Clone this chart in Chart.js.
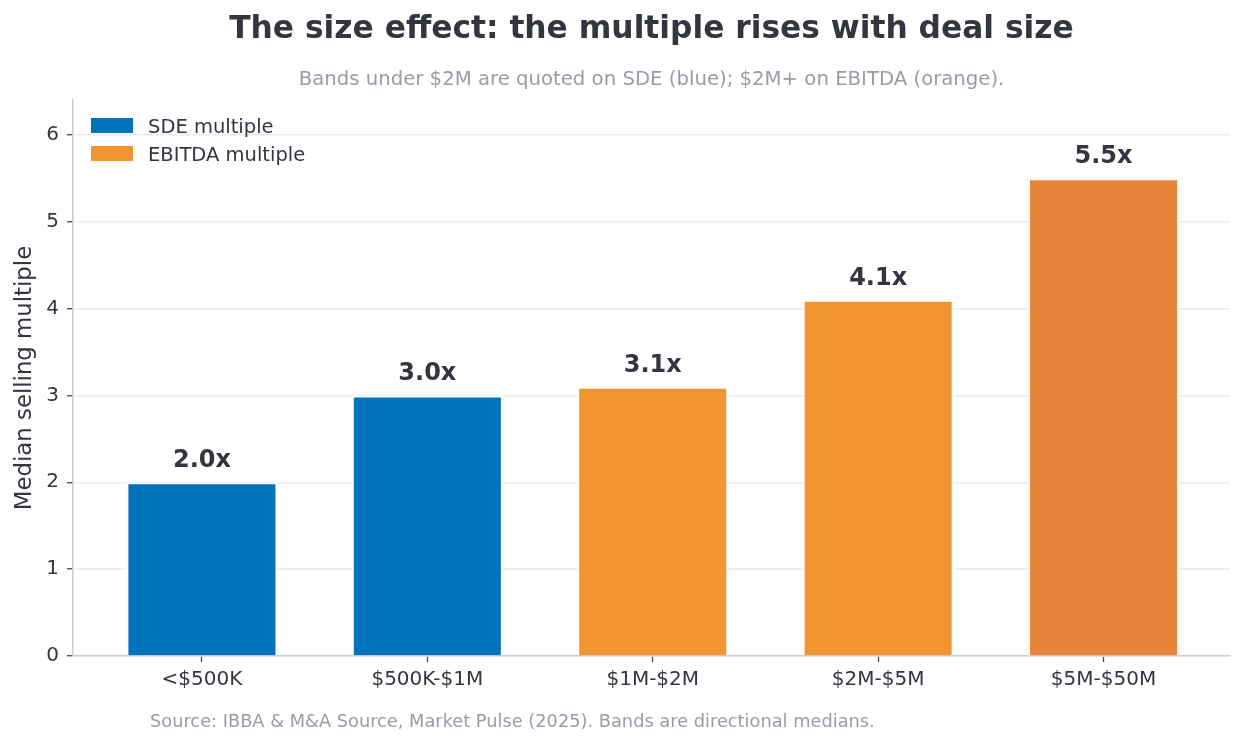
<!DOCTYPE html>
<html>
<head>
<meta charset="utf-8">
<script src="https://cdn.jsdelivr.net/npm/chart.js@4.4.1/dist/chart.umd.min.js"></script>
<style>
html,body{margin:0;padding:0;background:#fff;}
#wrap{width:1244px;height:745px;position:relative;}
</style>
</head>
<body>
<div id="wrap"><canvas id="c" width="1244" height="745"></canvas></div>
<script>
const categories = ['<$500K', '$500K-$1M', '$1M-$2M', '$2M-$5M', '$5M-$50M'];
const multiples = [2.0, 3.0, 3.1, 4.1, 5.5];
const barColors = ['#0173bd', '#0173bd', '#f39433', '#f39433', '#e8843c'];
const legendLabels = ['SDE multiple', 'EBITDA multiple'];
const legendColors = ['#0173bd', '#f39433'];
const yTicks = [0, 1, 2, 3, 4, 5, 6];
const titleText = 'The size effect: the multiple rises with deal size';
const subtitleText = 'Bands under $2M are quoted on SDE (blue); $2M+ on EBITDA (orange).';
const sourceText = 'Source: IBBA & M&A Source, Market Pulse (2025). Bands are directional medians.';

const TXT = '#33363f';
const GREY = '#9b9ba6';
const FONT = "'DejaVu Sans', sans-serif";

const overlay = {
  id: 'overlay',
  afterDatasetsDraw(chart) {
    const ctx = chart.ctx;
    const ca = chart.chartArea;
    const meta = chart.getDatasetMeta(0);
    ctx.save();
    const cx = (ca.left + ca.right) / 2;
    ctx.textAlign = 'center';
    ctx.textBaseline = 'middle';
    ctx.fillStyle = TXT;
    ctx.font = 'bold 31.3px ' + FONT;
    ctx.fillText(titleText, cx, 30);
    ctx.fillStyle = GREY;
    ctx.font = '19.7px ' + FONT;
    ctx.fillText(subtitleText, cx, 80);
    ctx.fillStyle = TXT;
    ctx.font = 'bold 24px ' + FONT;
    ctx.textBaseline = 'alphabetic';
    meta.data.forEach((bar, i) => {
      ctx.fillText(multiples[i].toFixed(1) + 'x', bar.x, bar.y - 15);
    });
    ctx.font = '19.5px ' + FONT;
    ctx.textAlign = 'left';
    ctx.textBaseline = 'middle';
    legendLabels.forEach((lab, i) => {
      const y = 118 + i * 28;
      ctx.fillStyle = legendColors[i];
      ctx.fillRect(ca.left + 18, y, 42, 15);
      ctx.fillStyle = TXT;
      ctx.fillText(lab, ca.left + 75, y + 10);
    });
    ctx.fillStyle = GREY;
    ctx.font = '17.8px ' + FONT;
    ctx.fillText(sourceText, 150, 722);
    ctx.restore();
  }
};

new Chart(document.getElementById('c'), {
  type: 'bar',
  data: {
    datasets: [{
      data: multiples.map((v, i) => ({x: i, y: v})),
      backgroundColor: barColors,
      borderColor: '#ffffff',
      borderWidth: 2,
      borderSkipped: 'bottom',
      barPercentage: 0.67,
      categoryPercentage: 1.0
    }]
  },
  options: {
    responsive: false,
    animation: false,
    devicePixelRatio: 1,
    layout: {padding: {top: 100, left: 0, right: 14, bottom: 47}},
    plugins: {
      legend: {display: false},
      tooltip: {enabled: false},
      title: {display: false},
      subtitle: {display: false}
    },
    scales: {
      x: {
        type: 'linear',
        min: -0.572,
        max: 4.561,
        offset: false,
        afterBuildTicks(scale) {
          scale.ticks = categories.map((c, i) => ({value: i}));
        },
        ticks: {
          color: TXT,
          font: {family: FONT, size: 20},
          padding: 6,
          maxRotation: 0,
          autoSkip: false,
          callback: (v) => categories[v]
        },
        grid: {offset: false, drawOnChartArea: false, drawTicks: true, tickLength: 6, tickColor: '#44474f', tickWidth: 1.3},
        border: {color: '#cccccc', width: 1.5}
      },
      y: {
        min: 0,
        max: 6.4,
        afterBuildTicks(scale) {
          scale.ticks = yTicks.map(v => ({value: v}));
        },
        afterFit(scale) { scale.width = 73; },
        ticks: {
          color: TXT,
          font: {family: FONT, size: 20},
          padding: 8
        },
        grid: {color: '#ebebef', lineWidth: 1.5, drawTicks: true, tickLength: 6, tickColor: '#44474f', tickWidth: 1.3},
        border: {color: '#cccccc', width: 1.5},
        title: {
          display: true,
          text: 'Median selling multiple',
          color: TXT,
          font: {family: FONT, size: 22.8},
          padding: {top: 11, bottom: 0}
        }
      }
    }
  },
  plugins: [overlay]
});
</script>
</body>
</html>
